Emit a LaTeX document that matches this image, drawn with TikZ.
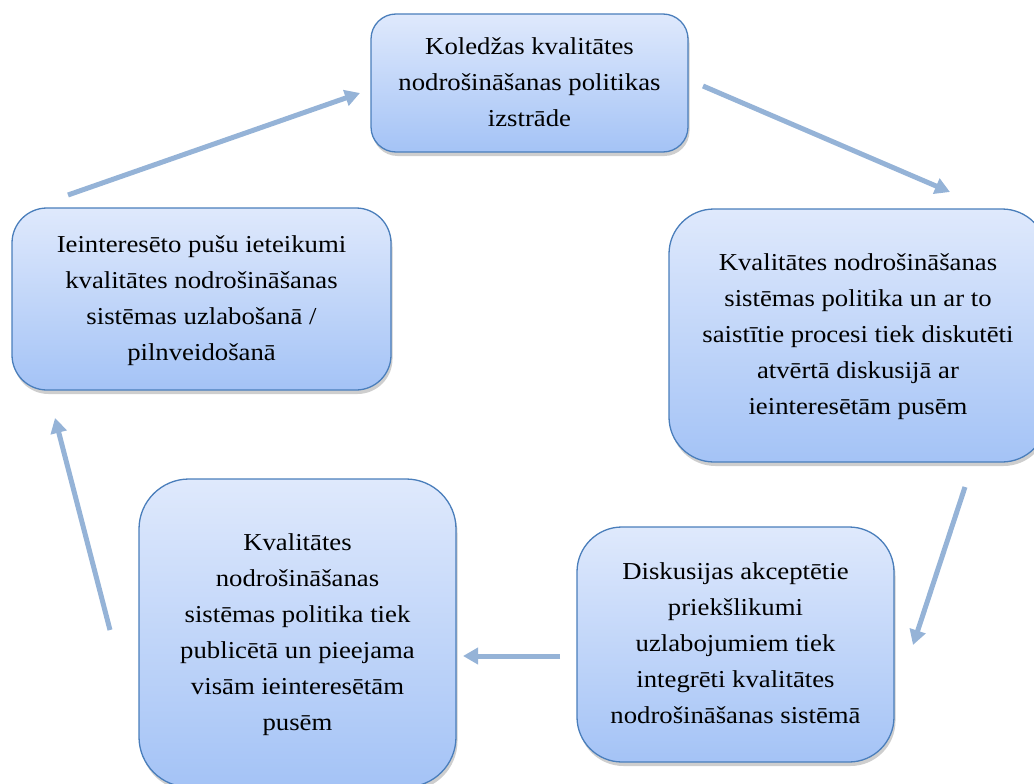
\documentclass[tikz,border=0pt]{standalone}
\usepackage{fontspec}
\setmainfont{Liberation Serif}
\usetikzlibrary{arrows.meta,shadows}
\definecolor{boxtop}{RGB}{223,233,252}
\definecolor{boxbot}{RGB}{164,195,246}
\definecolor{boxline}{RGB}{74,126,187}
\definecolor{arrowc}{RGB}{149,179,215}
\newcommand{\bxt}[1]{\scalebox{1.1}[1]{\fontsize{24.3}{36}\selectfont\begin{tabular}{@{}c@{}}#1\end{tabular}}}
\tikzset{
  cyclebox/.style={draw=boxline, line width=1.3pt, top color=boxtop, bottom color=boxbot,
    inner sep=0pt, outer sep=0pt, align=center,
    drop shadow={shadow xshift=1.5pt, shadow yshift=-4pt, fill=black!55, opacity=0.35}},
  cyclearrow/.style={draw=arrowc, line width=5pt, -{Triangle[length=15pt,width=16pt]}}
}
\begin{document}
\begin{tikzpicture}[x=1pt,y=-1pt]
\useasboundingbox (0,0) rectangle (1034,784);
\node[cyclebox, rounded corners=25pt, minimum width=317pt, minimum height=138pt] (top) at (529.5,83)
  {\bxt{Koledžas kvalitātes\\nodrošināšanas politikas\\izstrāde}};
\node[cyclebox, rounded corners=45pt, minimum width=378pt, minimum height=253pt] (right) at (858,335.5)
  {\bxt{Kvalitātes nodrošināšanas\\sistēmas politika un ar to\\saistītie procesi tiek diskutēti\\atvērtā diskusijā ar\\ieinteresētām pusēm}};
\node[cyclebox, rounded corners=45pt, minimum width=317pt, minimum height=235pt] (bright) at (735.5,644.5)
  {\bxt{Diskusijas akceptētie\\priekšlikumi\\uzlabojumiem tiek\\integrēti kvalitātes\\nodrošināšanas sistēmā}};
\node[cyclebox, rounded corners=50pt, minimum width=317pt, minimum height=308pt] (bleft) at (297.5,633)
  {\bxt{Kvalitātes\\nodrošināšanas\\sistēmas politika tiek\\publicētā un pieejama\\visām ieinteresētām\\pusēm}};
\node[cyclebox, rounded corners=35pt, minimum width=379pt, minimum height=182pt] (left) at (201.5,299)
  {\bxt{Ieinteresēto pušu ieteikumi\\kvalitātes nodrošināšanas\\sistēmas uzlabošanā /\\pilnveidošanā}};
\coordinate (a1s) at (68,195);  \coordinate (a1e) at (360,93);
\coordinate (a2s) at (703,86);  \coordinate (a2e) at (950,192);
\coordinate (a3s) at (965,487); \coordinate (a3e) at (913,645);
\coordinate (a4s) at (560,656); \coordinate (a4e) at (463,656);
\coordinate (a5s) at (110,630); \coordinate (a5e) at (55,418);
\draw[cyclearrow] (a1s) -- (a1e);
\draw[cyclearrow] (a2s) -- (a2e);
\draw[cyclearrow] (a3s) -- (a3e);
\draw[cyclearrow] (a4s) -- (a4e);
\draw[cyclearrow] (a5s) -- (a5e);
\end{tikzpicture}
\end{document}
